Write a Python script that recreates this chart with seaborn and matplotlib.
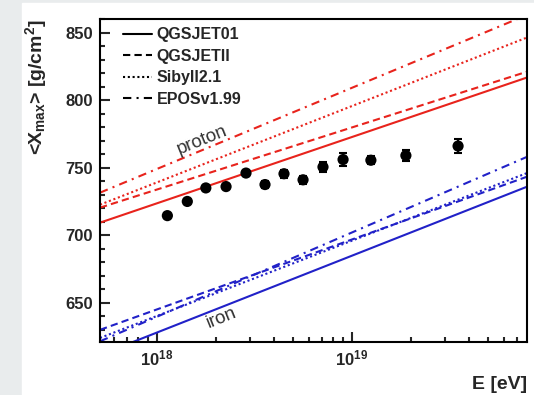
import numpy as np
import pandas as pd
import seaborn as sb
import matplotlib.pyplot as plt
from matplotlib.lines import Line2D
from matplotlib.patches import Rectangle
from matplotlib.ticker import FixedLocator, FixedFormatter, MultipleLocator

# measured <Xmax> points
E_data = [1.13e18, 1.43e18, 1.78e18, 2.26e18, 2.86e18, 3.58e18, 4.48e18,
          5.61e18, 7.10e18, 9.0e18, 1.25e19, 1.89e19, 3.5e19]
X_data = [714.5, 725, 735, 736, 746, 737.5, 745.5, 741, 750.5, 756, 755.5, 759, 766]
X_err = [2, 2, 2, 2, 2.5, 2.5, 3, 3, 4, 4.5, 3, 4, 5]

# model predictions (straight lines in log E), values at the two plot edges
E_ends = [5.1e17, 7.9e19]
models = ['QGSJET01', 'QGSJETII', 'Sibyll2.1', 'EPOSv1.99']
proton_ends = {'QGSJET01': [709.3, 816.7], 'QGSJETII': [720.4, 821.0],
               'Sibyll2.1': [722.6, 846.3], 'EPOSv1.99': [731.5, 863.0]}
iron_ends = {'QGSJET01': [611.4, 735.9], 'QGSJETII': [630.0, 743.3],
             'Sibyll2.1': [624.0, 746.0], 'EPOSv1.99': [621.5, 758.0]}

rows = []
for prim, ends in [('proton', proton_ends), ('iron', iron_ends)]:
    for m in models:
        for e, x in zip(E_ends, ends[m]):
            rows.append({'E': e, 'Xmax': x, 'primary': prim, 'model': m})
lines = pd.DataFrame(rows)

sb.set_style('ticks')
plt.rcParams['font.family'] = ['Liberation Sans', 'DejaVu Sans']
plt.rcParams['mathtext.fontset'] = 'custom'
plt.rcParams['mathtext.rm'] = 'Liberation Sans:bold'
plt.rcParams['mathtext.bf'] = 'Liberation Sans:bold'
plt.rcParams['mathtext.it'] = 'Liberation Sans:bold'
plt.rcParams['mathtext.default'] = 'bf'

fig = plt.figure(figsize=(5.34, 3.95), dpi=100)
fig.patch.set_facecolor('#e9eced')
fig.patches.append(Rectangle((22 / 534, 0), 1 - 22 / 534, 1 - 3 / 395,
                             transform=fig.transFigure, color='white', zorder=-1))
ax = fig.add_axes([100 / 534, 1 - 342 / 395, 427 / 534, 323 / 395])

dash_map = {'QGSJET01': '', 'QGSJETII': (3.5, 2), 'Sibyll2.1': (1, 1.3),
            'EPOSv1.99': (4, 2.5, 1, 2.5)}
sb.lineplot(data=lines, x='E', y='Xmax', hue='primary', style='model',
            palette={'proton': '#e8231c', 'iron': '#2121c8'}, dashes=dash_map,
            estimator=None, legend=False, lw=1.5, ax=ax)

ax.errorbar(E_data, X_data, yerr=X_err, fmt='none', ecolor='black',
            elinewidth=1.5, capsize=3, capthick=1.5, zorder=4)
sb.scatterplot(x=E_data, y=X_data, color='black', s=65, edgecolor='none',
               zorder=5, ax=ax)

ax.set_xscale('log')
ax.set_xlim(E_ends)
ax.set_ylim(621, 860)

ax.xaxis.set_major_locator(FixedLocator([1e18, 1e19]))
ax.xaxis.set_major_formatter(FixedFormatter([r'$\mathbf{10^{18}}$', r'$\mathbf{10^{19}}$']))
minor_x = [k * 10.0 ** p for p in (17, 18, 19) for k in range(2, 10)]
ax.xaxis.set_minor_locator(FixedLocator(minor_x))
ax.xaxis.set_minor_formatter(FixedFormatter([''] * len(minor_x)))
ax.yaxis.set_major_locator(MultipleLocator(50))
ax.yaxis.set_minor_locator(MultipleLocator(10))

ax.tick_params(which='both', direction='in', width=1.5, top=False, right=False)
ax.tick_params(which='major', length=7, labelsize=12, pad=5)
ax.tick_params(which='minor', length=3.5)
for lab in ax.get_yticklabels():
    lab.set_fontweight('bold')
for sp in ax.spines.values():
    sp.set_linewidth(1.5)
    sp.set_color('black')

ax.set_xlabel('E [eV]', fontsize=14, fontweight='bold', loc='right')
ax.xaxis.set_label_coords(1.0, -0.105)
ax.set_ylabel(r'<X$_{\mathbf{max}}$> [g/cm$^{\mathbf{2}}$]', fontsize=14,
              fontweight='bold', loc='top')
ax.yaxis.set_label_coords(-0.12, 1.0)

ax.text(1.70e18, 770, 'proton', fontsize=13.5, color='#333333', rotation=22,
        ha='center', va='center')
ax.text(2.15e18, 639, 'iron', fontsize=13.5, color='#333333', rotation=22,
        ha='center', va='center')

handles = [Line2D([], [], color='black', lw=1.5, ls='-')]
handles += [Line2D([], [], color='black', lw=1.5, dashes=dash_map[m]) for m in models[1:]]
leg = ax.legend(handles, models, loc='upper left', bbox_to_anchor=(0.054, 0.974),
                frameon=False, borderpad=0, borderaxespad=0, handlelength=1.8,
                handletextpad=0.3, labelspacing=0.41,
                prop={'size': 11.5, 'weight': 'bold', 'family': 'Liberation Sans'})

fig.savefig('out.png', dpi=100, facecolor=fig.get_facecolor())
